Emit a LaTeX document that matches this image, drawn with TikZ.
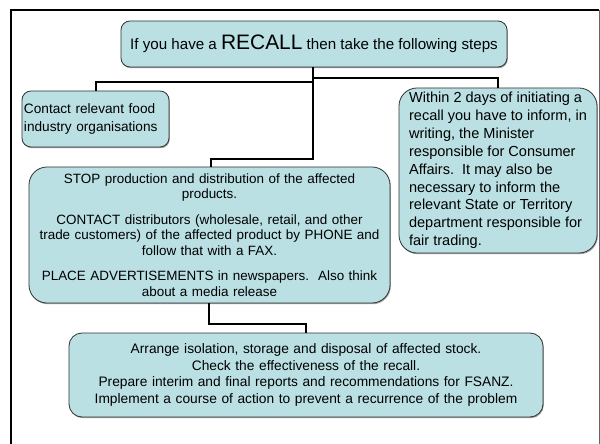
\documentclass[tikz,border=0pt]{standalone}
\usepackage{fontspec}
\setmainfont{Liberation Sans}
\usetikzlibrary{shadows}
\definecolor{boxfill}{RGB}{186,224,227}
\begin{document}
\begin{tikzpicture}[x=1bp,y=-1bp,
  box/.style={draw=black!80, line width=0.8bp, fill=boxfill, rounded corners=9bp,
    inner sep=0pt, drop shadow={shadow xshift=0.8bp, shadow yshift=-1.2bp, fill=black!45, opacity=0.8},
    font=\fontsize{13.6}{17}\selectfont},
  conn/.style={draw=black, line width=1.6bp}]
\useasboundingbox (0,0) rectangle (600,444);
\fill[white] (0,0) rectangle (600,444);
% frame
\draw[line width=2.4bp, black] (11,444) -- (11,10) -- (599,10);
\draw[line width=0.8bp, black!60] (599,10) -- (599,444);
% boxes
\node[box, minimum width=386bp, minimum height=46bp, font=\fontsize{15.2}{17}\selectfont] (top) at (314,44)
  {If you have a {\fontsize{21}{22}\selectfont RECALL} then take the following steps};
\node[box, minimum width=147bp, minimum height=56bp, text width=143bp, align=left,
  font=\fontsize{13.7}{18}\selectfont] (left) at (95.5,119)
  {Contact relevant food\\industry organisations};
\node[box, rounded corners=18bp, minimum width=198bp, minimum height=165bp, align=left,
  font=\fontsize{14.6}{17.9}\selectfont] (right) at (498,170.5)
  {Within 2 days of initiating a\\recall you have to inform, in\\writing, the Minister\\responsible for Consumer\\Affairs.\ \ It may also be\\necessary to inform the\\relevant State or Territory\\department responsible for\\fair trading.};
\node[box, rounded corners=18bp, minimum width=361bp, minimum height=136bp, text width=355bp, align=center,
  font=\fontsize{13.5}{15.5}\selectfont] (mid) at (209.5,235)
  {STOP production and distribution of the affected\\products.\\[10bp]
   CONTACT distributors (wholesale, retail, and other\\trade customers) of the affected product by PHONE and\\follow that with a FAX.\\[10bp]
   PLACE ADVERTISEMENTS in newspapers.\ \ Also think\\about a media release};
\node[box, rounded corners=13bp, minimum width=474bp, minimum height=84bp, text width=470bp, align=center,
  font=\fontsize{13.8}{16.8}\selectfont] (bot) at (306,375)
  {Arrange isolation, storage and disposal of affected stock.\\Check the effectiveness of the recall.\\Prepare interim and final reports and recommendations for FSANZ.\\Implement a course of action to prevent a recurrence of the problem};
% connectors
\coordinate (t1) at (313,67);
\coordinate (jl) at (313,82);
\coordinate (jr) at (313,78);
\coordinate (jm) at (313,159);
\coordinate (lx) at (96,82);
\coordinate (rx) at (498,78);
\coordinate (mx) at (211,159);
\draw[conn] (top.south -| t1) -- (jm) -- (mx) -- (mx |- mid.north);
\draw[conn] (jl) -- (lx) -- (lx |- left.north);
\draw[conn] (jr) -- (rx) -- (rx |- right.north);
\coordinate (ms) at (209,324);
\coordinate (mb) at (306,324);
\draw[conn] (ms |- mid.south) -- (ms) -- (mb) -- (mb |- bot.north);
\end{tikzpicture}
\end{document}
